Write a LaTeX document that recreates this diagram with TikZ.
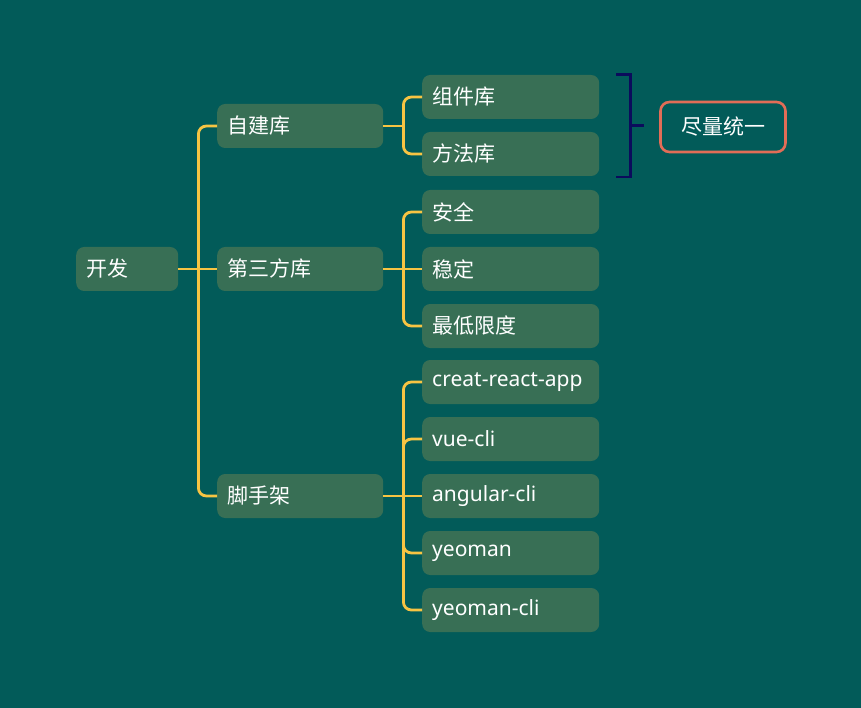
\documentclass[tikz,border=0pt]{standalone}
\usepackage{fontspec}
\setmainfont{Noto Sans}
\newfontfamily\cjk{Noto Sans CJK SC}
\usetikzlibrary{calc}
\definecolor{bgteal}{HTML}{025B59}
\definecolor{boxgreen}{HTML}{386F55}
\definecolor{linkgold}{HTML}{F7C443}
\definecolor{bracenavy}{HTML}{0B0B5C}
\definecolor{sumred}{HTML}{E26D57}
\tikzset{
	topic/.style={fill=boxgreen, rounded corners=8pt, anchor=west, minimum height=44pt,
		inner ysep=0pt, inner xsep=10pt, align=left, text=white,
		font=\fontsize{21}{23}\selectfont},
	link/.style={draw=linkgold, line width=2.8pt},
	elbowlink/.style={link, rounded corners=8pt},
	brace/.style={draw=bracenavy, line width=2.6pt},
	summary/.style={draw=sumred, line width=2.6pt, rounded corners=9pt, minimum width=125pt,
		minimum height=50pt, text=white, font=\fontsize{21}{23}\selectfont}
}

\begin{document}
\begin{tikzpicture}[x=1pt, y=-1pt]
		%%%%% START %%%%%
		
		\useasboundingbox[fill=bgteal] (0, 0) rectangle (861, 708);
		
		\node[topic, text width=82pt] (kaifa) at (76, 269) {\cjk 开发};
		
		\node[topic, text width=146pt] (zijian) at (217, 126) {\cjk 自建库};
		\node[topic, text width=146pt] (sanfang) at (217, 269) {\cjk 第三方库};
		\node[topic, text width=146pt] (jiaoshou) at (217, 496) {\cjk 脚手架};
		
		\node[topic, text width=157pt] (zujian) at (422, 97) {\cjk 组件库};
		\node[topic, text width=157pt] (fangfa) at (422, 154) {\cjk 方法库};
		\node[topic, text width=157pt] (anquan) at (422, 212) {\cjk 安全};
		\node[topic, text width=157pt] (wending) at (422, 269) {\cjk 稳定};
		\node[topic, text width=157pt] (zuidi) at (422, 326) {\cjk 最低限度};
		\node[topic, text width=157pt] (cra) at (422, 382) {creat-react-app};
		\node[topic, text width=157pt] (vuecli) at (422, 439) {vue-cli};
		\node[topic, text width=157pt] (ngcli) at (422, 496) {angular-cli};
		\node[topic, text width=157pt] (yeoman) at (422, 553) {yeoman};
		\node[topic, text width=157pt] (yeocli) at (422, 610) {yeoman-cli};
		
		% trunk joints
		\draw[link] (kaifa.east) -- ++(20, 0) coordinate (kaifajoint);
		\draw[link] (zijian.east) -- ++(20, 0) coordinate (zijianjoint);
		\draw[link] (sanfang.east) -- ++(20, 0) coordinate (sanfangjoint);
		\draw[link] (jiaoshou.east) -- ++(20, 0) coordinate (jiaoshoujoint);
		
		\draw[elbowlink] (kaifajoint) |- (zijian.west);
		\draw[link] (kaifajoint) -- (sanfang.west);
		\draw[elbowlink] (kaifajoint) |- (jiaoshou.west);
		
		\draw[elbowlink] (zijianjoint) |- (zujian.west);
		\draw[elbowlink] (zijianjoint) |- (fangfa.west);
		
		\draw[elbowlink] (sanfangjoint) |- (anquan.west);
		\draw[link] (sanfangjoint) -- (wending.west);
		\draw[elbowlink] (sanfangjoint) |- (zuidi.west);
		
		\draw[elbowlink] (jiaoshoujoint) |- (cra.west);
		\draw[elbowlink] (jiaoshoujoint) |- (vuecli.west);
		\draw[link] (jiaoshoujoint) -- (ngcli.west);
		\draw[elbowlink] (jiaoshoujoint) |- (yeoman.west);
		\draw[elbowlink] (jiaoshoujoint) |- (yeocli.west);
		
		\draw[brace] ($(zujian.north east)+(17, 0)$) -- ++(14, 0) |- ($(fangfa.south east)+(17, 1)$);
		\coordinate (bracemid) at ($(zujian.north east)!0.5!(fangfa.south east)+(31, 0)$);
		\draw[brace] (bracemid) -- ++(14, 0);
		
		\node[summary] (tongyi) at (723, 127) {\cjk 尽量统一};
		
		%%%%% END %%%%%
	\end{tikzpicture}
\end{document}
